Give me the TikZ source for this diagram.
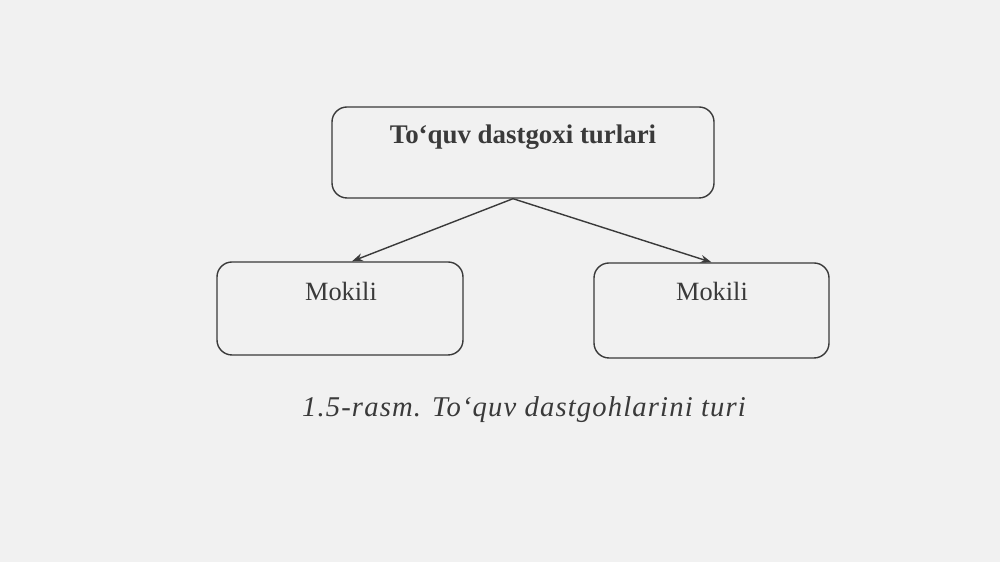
\documentclass[tikz,border=0pt]{standalone}
\usepackage{fontspec}
\setmainfont{Liberation Serif}
\newfontfamily\capfont[LetterSpace=4]{Liberation Serif}
\usetikzlibrary{arrows.meta}

\definecolor{scan}{HTML}{F1F1F1}
\definecolor{ink}{HTML}{3A3A3A}

\tikzset{
  typebox/.style={draw=ink,line width=0.8pt,rounded corners=0.3cm,inner sep=0pt},
  arrow/.style={draw=ink,line width=0.8pt,-{Stealth[length=2.2mm,width=1.6mm]}}
}

\begin{document}
\begin{tikzpicture}[scale=1]
            \fill[scan] (0,0) rectangle (20,11.24);
            \useasboundingbox (0,0) rectangle (20,11.24);

            \node (top) at (10.46,8.19) [typebox,minimum width=7.64cm,minimum height=1.82cm] {};
            \node (left) at (6.8,5.07) [typebox,minimum width=4.92cm,minimum height=1.86cm] {};
            \node (right) at (14.23,5.03) [typebox,minimum width=4.7cm,minimum height=1.9cm] {};

            \node (toptext) at (10.46,8.5) [text=ink,font=\fontsize{15.3}{18}\selectfont\bfseries] {To‘quv dastgoxi turlari};
            \node (lefttext) at (6.82,5.42) [text=ink,font=\fontsize{15}{18}\selectfont] {Mokili};
            \node (righttext) at (14.24,5.42) [text=ink,font=\fontsize{15}{18}\selectfont] {Mokili};

            \coordinate (fork) at ([xshift=-0.2cm]top.south);
            \draw[arrow] (fork) -- ([xshift=0.24cm]left.north);
            \draw[arrow] (fork) -- (right.north);

            \node (caption) at (10.48,3.04) [text=ink,font=\capfont\fontsize{16.3}{19}\selectfont\itshape] {1.5-rasm. To‘quv dastgohlarini turi};

        \end{tikzpicture}
\end{document}
